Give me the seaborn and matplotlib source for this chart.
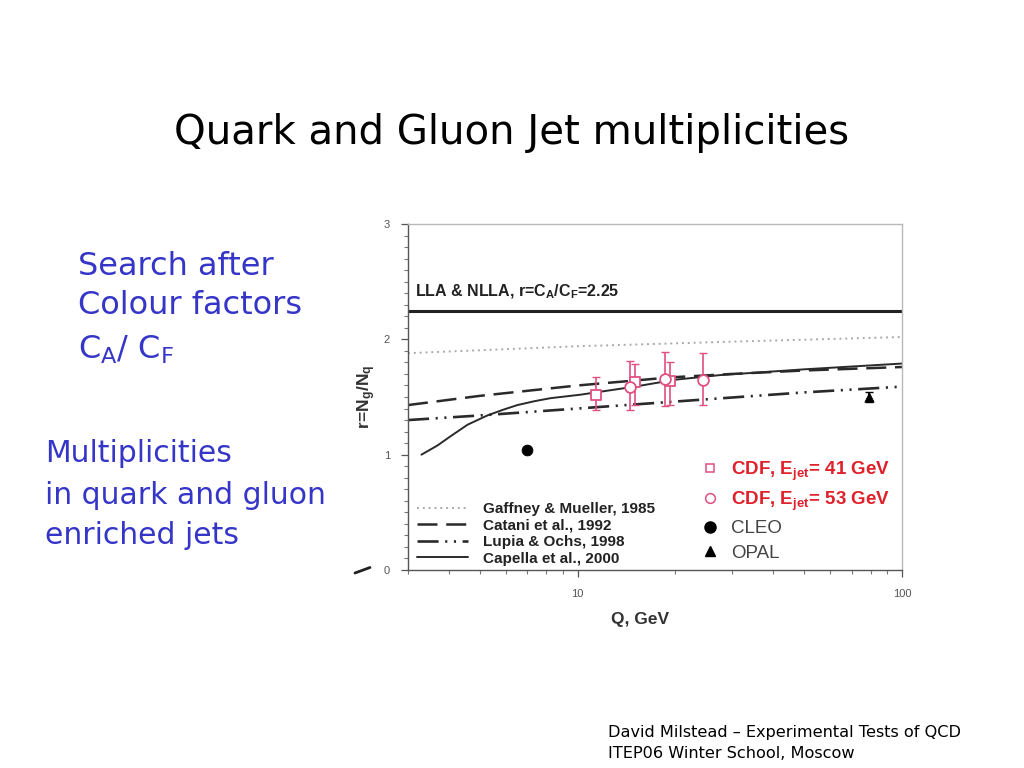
import numpy as np
import pandas as pd
import matplotlib
matplotlib.use("Agg")
import matplotlib.pyplot as plt
from matplotlib.lines import Line2D
import seaborn as sns

# ---------------- data ----------------
lla_value = 2.25

q_gaffney = [3.0, 10.0, 30.0, 100.0]
r_gaffney = [1.88, 1.94, 1.98, 2.02]

q_catani = [3.0, 5.0, 10.0, 14.6, 19.3, 30.0, 50.0, 100.0]
r_catani = [1.43, 1.51, 1.60, 1.64, 1.67, 1.70, 1.73, 1.76]

q_lupia = [3.0, 5.0, 10.0, 25.0, 50.0, 100.0]
r_lupia = [1.30, 1.34, 1.40, 1.48, 1.54, 1.59]

q_capella = [3.3, 3.7, 4.06, 4.58, 5.27, 5.9, 6.52, 7.4, 8.26, 10.2, 15.0, 20.0, 27.5, 50.0, 100.0]
r_capella = [1.00, 1.08, 1.16, 1.26, 1.34, 1.39, 1.43, 1.465, 1.49, 1.52, 1.59, 1.65, 1.69, 1.74, 1.79]

q_cdf41 = [11.4, 15.0, 19.3]
r_cdf41 = [1.52, 1.63, 1.64]
e_cdf41_lo = [0.13, 0.20, 0.21]
e_cdf41_hi = [0.15, 0.16, 0.16]

q_cdf53 = [14.5, 18.6, 24.4]
r_cdf53 = [1.59, 1.66, 1.65]
e_cdf53_lo = [0.20, 0.24, 0.22]
e_cdf53_hi = [0.22, 0.23, 0.23]

q_cleo = [7.0]
r_cleo = [1.04]
e_cleo = [0.03]

q_opal = [79.0]
r_opal = [1.50]
e_opal = [0.04]

x_ticks = [10, 100]
x_ticklabels = ["10", "100"]
y_ticks = [0, 1, 2, 3]
y_ticklabels = ["0", "1", "2", "3"]

# ---------------- style ----------------
sns.set_theme(style="ticks")
plt.rcParams["font.family"] = ["DejaVu Sans"]
plt.rcParams["mathtext.fontset"] = "custom"
plt.rcParams["mathtext.rm"] = "Liberation Sans"
plt.rcParams["mathtext.bf"] = "Liberation Sans:bold"
plt.rcParams["mathtext.it"] = "Liberation Sans:italic"

fig = plt.figure(figsize=(10.24, 7.68), dpi=100)
fig.patch.set_facecolor("white")
ax = fig.add_axes([408 / 1024, 1 - 570 / 768, (902 - 408) / 1024, (570 - 224) / 768])
ax.set_facecolor("white")

# LLA line
ax.axhline(lla_value, color="#222222", lw=2.2)

pink = "#e0507e"

sns.lineplot(x=q_gaffney, y=r_gaffney, ax=ax, color="#aaaaaa", lw=1.4,
             linestyle=(0, (1, 2)), label="Gaffney & Mueller, 1985", legend=False)
sns.lineplot(x=q_catani, y=r_catani, ax=ax, color="#2a2a2a", lw=1.8,
             linestyle=(0, (8, 3.5)), label="Catani et al., 1992", legend=False)
sns.lineplot(x=q_lupia, y=r_lupia, ax=ax, color="#2a2a2a", lw=1.9,
             linestyle=(0, (8, 2.5, 0.8, 2.5, 0.8, 2.5)), label="Lupia & Ochs, 1998",
             legend=False)
sns.lineplot(x=q_capella, y=r_capella, ax=ax, color="#2a2a2a", lw=1.4,
             linestyle="-", label="Capella et al., 2000", legend=False)

# data points
ax.errorbar(q_cdf41, r_cdf41, yerr=[e_cdf41_lo, e_cdf41_hi], fmt="none",
            ecolor=pink, elinewidth=1.2, capsize=3, zorder=4)
ax.errorbar(q_cdf53, r_cdf53, yerr=[e_cdf53_lo, e_cdf53_hi], fmt="none",
            ecolor=pink, elinewidth=1.2, capsize=3, zorder=4)
ax.errorbar(q_cleo, r_cleo, yerr=[e_cleo, e_cleo], fmt="none",
            ecolor="black", elinewidth=1.2, capsize=2, zorder=4)
ax.errorbar(q_opal, r_opal, yerr=[e_opal, e_opal], fmt="none",
            ecolor="black", elinewidth=1.5, capsize=3, zorder=4)

sns.scatterplot(x=q_cdf41, y=r_cdf41, ax=ax, marker="s", s=45,
                facecolor="white", edgecolor=pink, linewidth=1.3, zorder=5)
sns.scatterplot(x=q_cdf53, y=r_cdf53, ax=ax, marker="o", s=60,
                facecolor="white", edgecolor=pink, linewidth=1.3, zorder=5)
sns.scatterplot(x=q_cleo, y=r_cleo, ax=ax, marker="o", s=60,
                color="black", edgecolor="black", zorder=5)
sns.scatterplot(x=q_opal, y=r_opal, ax=ax, marker="^", s=45,
                color="black", edgecolor="black", zorder=5)

# axes
ax.set_xscale("log")
ax.set_xlim(3.0, 100)
ax.set_ylim(0, 3)
ax.set_xticks(x_ticks)
ax.set_xticklabels(x_ticklabels)
ax.set_yticks(y_ticks)
ax.set_yticklabels(y_ticklabels)
ax.set_yticks(np.arange(0, 3.01, 0.1), minor=True)
ax.tick_params(axis="both", which="major", labelsize=8, labelcolor="#555555",
               color="#555555", length=5, width=0.9, direction="out")
ax.tick_params(axis="both", which="minor", color="#777777", length=3, width=0.8,
               direction="out")
for lab in ax.get_xticklabels() + ax.get_yticklabels():
    lab.set_family("Liberation Sans")
ax.tick_params(axis="x", which="major", pad=9)
ax.tick_params(axis="y", which="major", pad=8)
for side in ["left", "bottom"]:
    ax.spines[side].set_color("#555555")
    ax.spines[side].set_linewidth(1.0)
for side in ["top", "right"]:
    ax.spines[side].set_color("#b8b8b8")
    ax.spines[side].set_linewidth(1.0)
ax.grid(False)

ax.set_xlabel("Q, GeV", fontsize=12.5, fontweight="bold", family="Liberation Sans",
              color="#333333", labelpad=6)
ax.xaxis.set_label_coords(0.47, -0.12)
ax.set_ylabel(r"$\mathbf{r\!=\!N_g/N_q}$", fontsize=12.5, color="#333333")
ax.yaxis.set_label_coords(-0.06, 0.5)

ax.text(3.15, 2.33, r"LLA & NLLA, r=C$_{\mathbf{A}}$/C$_{\mathbf{F}}$=2.25",
        fontsize=11.5, fontweight="bold", family="Liberation Sans", color="#222222",
        va="bottom", ha="left")

# legend of theory curves
line_handles = ax.get_lines()[1:5]
leg1 = ax.legend(handles=line_handles,
                 labels=[h.get_label() for h in line_handles],
                 loc="lower left", bbox_to_anchor=(0.0, -0.014), frameon=False,
                 prop={"family": "Liberation Sans", "weight": "bold", "size": 11},
                 handlelength=3.3, handletextpad=1.0, labelspacing=0.16,
                 borderaxespad=0.2)
for t in leg1.get_texts():
    t.set_color("#222222")
ax.add_artist(leg1)

# legend of data points
pt_handles = [
    Line2D([], [], marker="s", ls="none", markersize=6, markerfacecolor="white",
           markeredgecolor=pink, markeredgewidth=1.1),
    Line2D([], [], marker="o", ls="none", markersize=7, markerfacecolor="white",
           markeredgecolor=pink, markeredgewidth=1.1),
    Line2D([], [], marker="o", ls="none", markersize=8, color="black"),
    Line2D([], [], marker="^", ls="none", markersize=7, color="black"),
]
pt_labels = [r"CDF, $\mathbf{E_{jet}}$= 41 GeV", r"CDF, $\mathbf{E_{jet}}$= 53 GeV",
             "CLEO", "OPAL"]
leg2 = ax.legend(handles=pt_handles, labels=pt_labels, loc="lower right",
                 bbox_to_anchor=(0.998, -0.008), frameon=False,
                 prop={"family": "Liberation Sans", "size": 13.5},
                 handlelength=1.0, handletextpad=0.6, labelspacing=0.38,
                 borderaxespad=0.2)
for i, t in enumerate(leg2.get_texts()):
    if i < 2:
        t.set_color("#e0202a")
        t.set_fontweight("bold")
    else:
        t.set_color("#444444")

# stray mark left of the chart
fig.add_artist(Line2D([355 / 1024, 370 / 1024], [1 - 573 / 768, 1 - 567.5 / 768],
                      color="#222222", lw=2.0, transform=fig.transFigure))

# slide texts
fig.text(512 / 1024, 1 - 133 / 768, "Quark and Gluon Jet multiplicities",
         fontsize=29, ha="center", va="center", color="black")

blue = "#3535c8"
fig.text(78 / 1024, 1 - 266 / 768, "Search after", fontsize=23, color=blue,
         ha="left", va="center")
fig.text(78 / 1024, 1 - 306 / 768, "Colour factors", fontsize=23, color=blue,
         ha="left", va="center")
fig.text(78 / 1024, 1 - 350 / 768, r"C$_\mathregular{A}$/ C$_\mathregular{F}$",
         fontsize=23, color=blue, ha="left", va="center")

fig.text(45 / 1024, 1 - 454 / 768, "Multiplicities", fontsize=21.5, color=blue,
         ha="left", va="center")
fig.text(45 / 1024, 1 - 495 / 768, "in quark and gluon", fontsize=21.5, color=blue,
         ha="left", va="center")
fig.text(45 / 1024, 1 - 535 / 768, "enriched jets", fontsize=21.5, color=blue,
         ha="left", va="center")

fig.text(608 / 1024, 1 - 733 / 768, "David Milstead \u2013 Experimental Tests of QCD",
         fontsize=11.6, color="black", ha="left", va="center")
fig.text(608 / 1024, 1 - 753 / 768, "ITEP06 Winter School, Moscow",
         fontsize=11.6, color="black", ha="left", va="center")

fig.savefig("out.png", dpi=100, facecolor="white")
